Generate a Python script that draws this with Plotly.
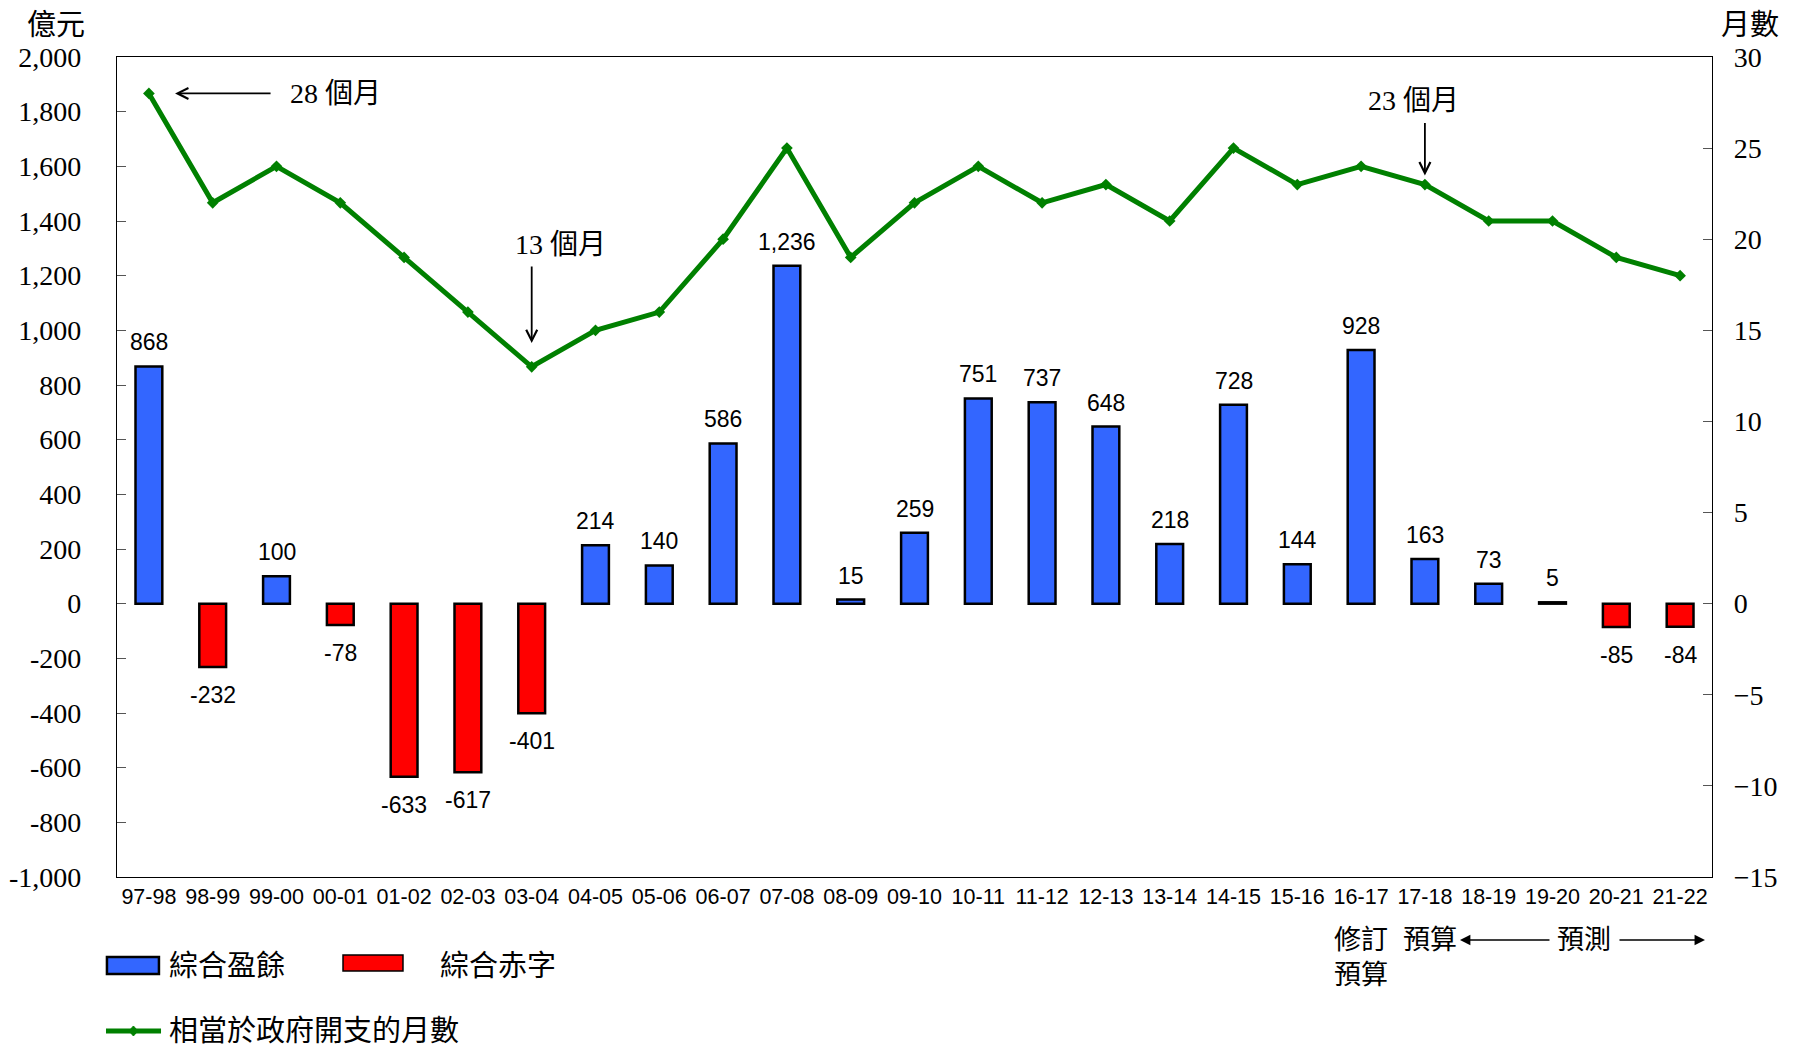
import plotly.graph_objects as go

categories = ["97-98", "98-99", "99-00", "00-01", "01-02", "02-03", "03-04", "04-05",
              "05-06", "06-07", "07-08", "08-09", "09-10", "10-11", "11-12", "12-13",
              "13-14", "14-15", "15-16", "16-17", "17-18", "18-19", "19-20", "20-21", "21-22"]
balance = [868, -232, 100, -78, -633, -617, -401, 214, 140, 586, 1236, 15, 259,
           751, 737, 648, 218, 728, 144, 928, 163, 73, 5, -85, -84]
months = [28, 22, 24, 22, 19, 16, 13, 15, 16, 20, 25, 19, 22, 24, 22, 23, 21, 25,
          23, 24, 23, 21, 21, 19, 18]
left_ticks = [-1000, -800, -600, -400, -200, 0, 200, 400, 600, 800, 1000, 1200, 1400,
              1600, 1800, 2000]
right_ticks = [-15, -10, -5, 0, 5, 10, 15, 20, 25, 30]

SERIF = "Times New Roman, Liberation Serif, DejaVu Serif, serif"
SANS = "Liberation Sans, Arial, sans-serif"
CJK = "Times New Roman, Liberation Serif, Noto Sans CJK TC, serif"
BLUE = "#3366FF"
RED = "#FF0000"
GREEN = "#008000"

surplus = [v if v >= 0 else None for v in balance]
deficit = [v if v < 0 else None for v in balance]

fig = go.Figure()
fig.add_trace(go.Bar(x=categories, y=surplus, name="綜合盈餘", width=0.42,
                     marker=dict(color=BLUE, line=dict(color="black", width=2.5)),
                     showlegend=False))
fig.add_trace(go.Bar(x=categories, y=deficit, name="綜合赤字", width=0.42,
                     marker=dict(color=RED, line=dict(color="black", width=2.5)),
                     showlegend=False))
fig.add_trace(go.Scatter(x=categories, y=months, name="相當於政府開支的月數", yaxis="y2",
                         mode="lines+markers",
                         line=dict(color=GREEN, width=5),
                         marker=dict(symbol="diamond", size=9, color=GREEN),
                         showlegend=False))

annotations = []
# data labels
for c, v in zip(categories, balance):
    annotations.append(dict(x=c, y=v, xref="x", yref="y", text=f"{v:,}", showarrow=False,
                            yanchor="bottom" if v >= 0 else "top",
                            yshift=9 if v >= 0 else -13,
                            font=dict(family=SANS, size=23, color="black")))

# axis titles
annotations.append(dict(x=-0.038, y=1.039, xref="paper", yref="paper", text="億元",
                        showarrow=False, xanchor="center", yanchor="middle",
                        font=dict(family=CJK, size=29, color="black")))
annotations.append(dict(x=1.024, y=1.039, xref="paper", yref="paper", text="月數",
                        showarrow=False, xanchor="center", yanchor="middle",
                        font=dict(family=CJK, size=29, color="black")))

# arrows with text
ARW = dict(showarrow=True, arrowhead=5, arrowsize=1.2, arrowwidth=1.8, arrowcolor="black",
           text="")
annotations.append(dict(x=0.41, y=28, xref="x", yref="y2", ax=97, ay=0, **ARW))
annotations.append(dict(x=2.18, y=28, xref="x", yref="y2", text="28 個月", showarrow=False,
                        xanchor="left", font=dict(family=CJK, size=28, color="black")))
annotations.append(dict(x=6, y=14.3, xref="x", yref="y2", ax=0, ay=-78, **ARW))
annotations.append(dict(x=5.71, y=19.7, xref="x", yref="y2", text="13 個月", showarrow=False,
                        xanchor="left", font=dict(family=CJK, size=28, color="black")))
annotations.append(dict(x=20, y=23.5, xref="x", yref="y2", ax=0, ay=-54, **ARW))
annotations.append(dict(x=19.08, y=27.6, xref="x", yref="y2", text="23 個月", showarrow=False,
                        xanchor="left", font=dict(family=CJK, size=28, color="black")))

# bottom notes
NOTE = dict(family=CJK, size=27, color="black")
annotations.append(dict(x=19, y=-0.0768, xref="x", yref="paper", text="修訂", showarrow=False,
                        yanchor="middle", font=NOTE))
annotations.append(dict(x=19, y=-0.119, xref="x", yref="paper", text="預算", showarrow=False,
                        yanchor="middle", font=NOTE))
annotations.append(dict(x=20.08, y=-0.0768, xref="x", yref="paper", text="預算", showarrow=False,
                        yanchor="middle", font=NOTE))
annotations.append(dict(x=22.5, y=-0.0768, xref="x", yref="paper", text="預測", showarrow=False,
                        yanchor="middle", font=NOTE))
annotations.append(dict(x=20.55, y=-0.0768, xref="x", yref="paper", ax=91, ay=0,
                        text="", showarrow=True, arrowhead=2,
                        arrowsize=1.3, arrowwidth=1.6, arrowcolor="black"))
annotations.append(dict(x=24.39, y=-0.0768, xref="x", yref="paper", ax=-87, ay=0,
                        text="", showarrow=True, arrowhead=2,
                        arrowsize=1.3, arrowwidth=1.6, arrowcolor="black"))

# legend (drawn)
LEG = dict(family=CJK, size=29, color="black")
annotations.append(dict(x=0.0313, y=-0.1085, xref="paper", yref="paper", text="綜合盈餘",
                        showarrow=False, xanchor="left", yanchor="middle", font=LEG))
annotations.append(dict(x=0.2013, y=-0.1085, xref="paper", yref="paper", text="綜合赤字",
                        showarrow=False, xanchor="left", yanchor="middle", font=LEG))
annotations.append(dict(x=0.0313, y=-0.1878, xref="paper", yref="paper",
                        text="相當於政府開支的月數",
                        showarrow=False, xanchor="left", yanchor="middle", font=LEG))

shapes = [
    dict(type="rect", xref="paper", yref="paper", x0=-0.0063, x1=0.0263, y0=-0.1183,
         y1=-0.0976, fillcolor=BLUE, line=dict(color="black", width=2.5)),
    dict(type="rect", xref="paper", yref="paper", x0=0.1417, x1=0.1793, y0=-0.1146,
         y1=-0.0951, fillcolor=RED, line=dict(color="black", width=1.5)),
    dict(type="line", xref="paper", yref="paper", x0=-0.0069, x1=0.0276, y0=-0.1878,
         y1=-0.1878, line=dict(color=GREEN, width=5)),
    dict(type="path", xref="paper", yref="paper",
         path="M 0.0103 -0.1817 L 0.0131 -0.1878 L 0.0103 -0.1939 L 0.0075 -0.1878 Z",
         fillcolor=GREEN, line=dict(color=GREEN, width=1)),
]

fig.update_layout(
    width=1798, height=1044,
    margin=dict(l=109, r=94, t=49, b=175, autoexpand=False),
    plot_bgcolor="white", paper_bgcolor="white",
    barmode="overlay",
    showlegend=False,
    xaxis=dict(type="category", range=[-0.5, 24.5], showline=True, linecolor="black",
               linewidth=1.2, mirror=True, ticks="", showgrid=False, automargin=False,
               tickfont=dict(family=SANS, size=21.5, color="black")),
    xaxis2=dict(type="linear", overlaying="x", anchor="free", position=1/3,
                range=[-0.5, 24.5], showline=True, linecolor="black", linewidth=1.2,
                ticks="inside", ticklen=7, tickcolor="#555555", automargin=False,
                tickvals=[i + 0.5 for i in range(len(categories) - 1)],
                showticklabels=False, showgrid=False, zeroline=False),
    yaxis=dict(range=[-1000, 2000], tickvals=left_ticks,
               ticktext=[f"{t:,}" for t in left_ticks],
               ticks="inside", ticklen=9, tickcolor="#555555", ticklabelstandoff=29,
               showgrid=False, zeroline=False, showline=True, linecolor="black",
               linewidth=1.2, automargin=False,
               tickfont=dict(family=SERIF, size=28, color="black")),
    yaxis2=dict(range=[-15, 30], tickvals=right_ticks, overlaying="y", side="right",
                ticks="inside", ticklen=9, tickcolor="#555555", ticklabelstandoff=15,
                showgrid=False, zeroline=False, showline=True, linecolor="black",
                linewidth=1.2, automargin=False,
                tickfont=dict(family=SERIF, size=28, color="black")),
    annotations=annotations,
    shapes=shapes,
)

fig.write_html("out.html")
